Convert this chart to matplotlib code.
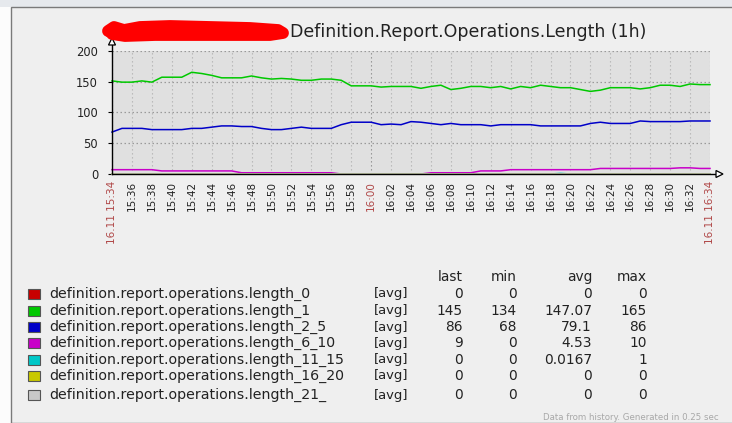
import matplotlib
matplotlib.use("Agg")
import matplotlib.pyplot as plt
from matplotlib.patches import Rectangle, Polygon
from matplotlib.lines import Line2D

W, H = 732, 423

# ---------------- data ----------------
minutes = list(range(61))  # minutes after 15:34

length_0 = [0, 0, 0, 0, 0, 0, 0, 0, 0, 0, 0, 0, 0, 0, 0, 0, 0, 0, 0, 0, 0, 0, 0, 0, 0, 0, 0, 0, 0, 0,
            0, 0, 0, 0, 0, 0, 0, 0, 0, 0, 0, 0, 0, 0, 0, 0, 0, 0, 0, 0, 0, 0, 0, 0, 0, 0, 0, 0, 0, 0, 0]
length_1 = [151, 149, 149, 151, 149, 157, 157, 157, 165, 163, 160, 156, 156, 156, 159, 156, 154, 155, 154, 152,
            152, 154, 154, 152, 143, 143, 143, 141, 142, 142, 142, 139, 142, 144, 137, 139, 142, 142, 140, 142,
            138, 142, 140, 144, 142, 140, 140, 137, 134, 136, 140, 140, 140, 138, 140, 144, 144, 142, 146, 145, 145]
length_2_5 = [68, 74, 74, 74, 72, 72, 72, 72, 74, 74, 76, 78, 78, 77, 77, 74, 72, 72, 74, 76,
              74, 74, 74, 80, 84, 84, 84, 80, 81, 80, 85, 84, 82, 80, 82, 80, 80, 80, 78, 80,
              80, 80, 80, 78, 78, 78, 78, 78, 82, 84, 82, 82, 82, 86, 85, 85, 85, 85, 86, 86, 86]
length_6_10 = [7, 7, 7, 7, 7, 5, 5, 5, 5, 5, 5, 5, 5, 2, 2, 2, 2, 2, 2, 2,
               2, 2, 2, 0, 0, 0, 0, 0, 0, 0, 0, 0, 2, 2, 2, 2, 2, 5, 5, 5,
               7, 7, 7, 7, 7, 7, 7, 7, 7, 9, 9, 9, 9, 9, 9, 9, 9, 10, 10, 9, 9]
length_11_15 = [0, 0, 0, 0, 0, 0, 0, 0, 0, 0, 0, 0, 0, 0, 0, 0, 0, 0, 0, 0, 0, 0, 0, 0, 0, 0, 0, 0, 0, 0,
                0, 0, 0, 0, 0, 0, 0, 0, 0, 0, 0, 0, 0, 0, 0, 1, 0, 0, 0, 0, 0, 0, 0, 0, 0, 0, 0, 0, 0, 0, 0]
length_16_20 = [0, 0, 0, 0, 0, 0, 0, 0, 0, 0, 0, 0, 0, 0, 0, 0, 0, 0, 0, 0, 0, 0, 0, 0, 0, 0, 0, 0, 0, 0,
                0, 0, 0, 0, 0, 0, 0, 0, 0, 0, 0, 0, 0, 0, 0, 0, 0, 0, 0, 0, 0, 0, 0, 0, 0, 0, 0, 0, 0, 0, 0]
length_21_ = [0, 0, 0, 0, 0, 0, 0, 0, 0, 0, 0, 0, 0, 0, 0, 0, 0, 0, 0, 0, 0, 0, 0, 0, 0, 0, 0, 0, 0, 0,
              0, 0, 0, 0, 0, 0, 0, 0, 0, 0, 0, 0, 0, 0, 0, 0, 0, 0, 0, 0, 0, 0, 0, 0, 0, 0, 0, 0, 0, 0, 0]

series_names = ["definition.report.operations.length_0",
                "definition.report.operations.length_1",
                "definition.report.operations.length_2_5",
                "definition.report.operations.length_6_10",
                "definition.report.operations.length_11_15",
                "definition.report.operations.length_16_20",
                "definition.report.operations.length_21_"]
series_values = [length_0, length_1, length_2_5, length_6_10, length_11_15, length_16_20, length_21_]
series_colors = ["#c80000", "#00c800", "#0000c8", "#c800c8", "#00c8c8", "#c8c800", "#c8c8c8"]

stat_last = ["0", "145", "86", "9", "0", "0", "0"]
stat_min = ["0", "134", "68", "0", "0", "0", "0"]
stat_avg = ["0", "147.07", "79.1", "4.53", "0.0167", "0", "0"]
stat_max = ["0", "165", "86", "10", "1", "0", "0"]

tick_minutes = list(range(0, 61, 2))
tick_labels = ["16.11 15:34", "15:36", "15:38", "15:40", "15:42", "15:44", "15:46", "15:48", "15:50",
               "15:52", "15:54", "15:56", "15:58", "16:00", "16:02", "16:04", "16:06", "16:08", "16:10",
               "16:12", "16:14", "16:16", "16:18", "16:20", "16:22", "16:24", "16:26", "16:28", "16:30",
               "16:32", "16.11 16:34"]
major_labels = {"16.11 15:34", "16:00", "16.11 16:34"}
y_ticks = [0, 50, 100, 150, 200]

title = "Definition.Report.Operations.Length (1h)"
footer = "Data from history. Generated in 0.25 sec"

# ---------------- figure ----------------
plt.rcParams["font.family"] = ["DejaVu Sans"]
fig = plt.figure(figsize=(W / 100, H / 100), dpi=100, facecolor="#fcfcfc")


def fx(x):
    return x / W


def fy(y):
    return 1 - y / H


# background / frame
fig.add_artist(Rectangle((0, fy(7)), 1, 7 / H, transform=fig.transFigure,
                         facecolor="#e6e9ed", edgecolor="none", zorder=0))
fig.add_artist(Rectangle((fx(11), 0), 1, fy(7.5), transform=fig.transFigure,
                         facecolor="#efefef", edgecolor="#7a7a7a", lw=1.0, zorder=0))

# plot axes
x0, x1, y0, y1 = 112, 710, 174, 50.7
ax = fig.add_axes([fx(x0), fy(y0), (x1 - x0) / W, (y0 - y1) / H])
ax.set_facecolor("#e0e0e0")
ax.set_xlim(0, 60)
ax.set_ylim(0, 200)
for s in ax.spines.values():
    s.set_visible(False)

for vals, col in zip(series_values, series_colors):
    ax.plot(minutes, vals, color=col, lw=1.1, solid_joinstyle="round", zorder=3, clip_on=False)

ax.set_yticks(y_ticks)
ax.set_yticklabels([str(v) for v in y_ticks], fontsize=8.3, color="#222222")
ax.tick_params(axis="y", length=3, width=0.8, color="#000000", pad=7)
ax.set_xticks(tick_minutes)
ax.set_xticklabels(tick_labels, rotation=90, fontsize=7.5, va="top", ha="center")
ax.tick_params(axis="x", length=0, pad=5)
for lbl in ax.get_xticklabels():
    lbl.set_color("#b04848" if lbl.get_text() in major_labels else "#222222")

ax.set_axisbelow(True)
ax.xaxis.grid(True, linestyle=(0, (1.2, 2.4)), color="#b4b4b4", lw=0.8)
ax.yaxis.grid(True, linestyle=(0, (1.2, 2.0)), color="#9a9a9a", lw=0.9)
for lab, gl in zip(tick_labels, ax.get_xgridlines()):
    if lab == "16:00":
        gl.set_color("#8c8c8c")

# axis lines with open arrows
fig.add_artist(Line2D([fx(112), fx(112)], [fy(174.5), fy(44)], transform=fig.transFigure,
                      color="black", lw=1.0, zorder=10))
fig.add_artist(Line2D([fx(111.5), fx(716)], [fy(174), fy(174)], transform=fig.transFigure,
                      color="black", lw=1.0, zorder=10))
fig.add_artist(Polygon([(fx(108.5), fy(45)), (fx(115.5), fy(45)), (fx(112), fy(38))], closed=True,
                       transform=fig.transFigure, facecolor="white", edgecolor="black", lw=0.9, zorder=10))
fig.add_artist(Polygon([(fx(716), fy(170.5)), (fx(716), fy(177.5)), (fx(723), fy(174))], closed=True,
                       transform=fig.transFigure, facecolor="white", edgecolor="black", lw=0.9, zorder=10))

# title with redaction scribble
fig.text(fx(290), fy(32), title, fontsize=12.5, color="#222222", ha="left", va="center")
scribble_x = [108, 114, 124, 140, 170, 210, 250, 278, 283, 270, 235, 195, 155, 125, 112]
scribble_y = [31, 27, 30, 27, 26, 27, 28, 30, 33, 35, 35, 35, 35, 36, 34]
fig.add_artist(Line2D([fx(v) for v in scribble_x], [fy(v) for v in scribble_y],
                      transform=fig.transFigure, color="#ff0000", lw=8.5,
                      solid_capstyle="round", solid_joinstyle="round", zorder=12))

# legend table
row_y = [294, 310.5, 327, 343, 359.5, 376, 395]
hdr_y = 277
cols = [(463, "last", stat_last), (517, "min", stat_min), (592, "avg", stat_avg), (647, "max", stat_max)]
fs = 10.2
for ypix, name, col in zip(row_y, series_names, series_colors):
    fig.add_artist(Rectangle((fx(28), fy(ypix + 5)), 12 / W, 10 / H, transform=fig.transFigure,
                             facecolor=col, edgecolor="#555555", lw=0.8, zorder=5))
    fig.text(fx(49), fy(ypix), name, fontsize=fs, color="#222222", ha="left", va="center")
    fig.text(fx(374), fy(ypix), "[avg]", fontsize=fs * 0.93, color="#222222", ha="left", va="center")
for xr, hdr, vals in cols:
    fig.text(fx(xr), fy(hdr_y), hdr, fontsize=fs * 0.97, color="#222222", ha="right", va="center")
    for ypix, v in zip(row_y, vals):
        fig.text(fx(xr), fy(ypix), v, fontsize=fs * 0.97, color="#222222", ha="right", va="center")

fig.text(fx(543), fy(417), footer, fontsize=6.2, color="#a8a8a8", ha="left", va="center")

fig.savefig("out.png", dpi=100, facecolor=fig.get_facecolor())
